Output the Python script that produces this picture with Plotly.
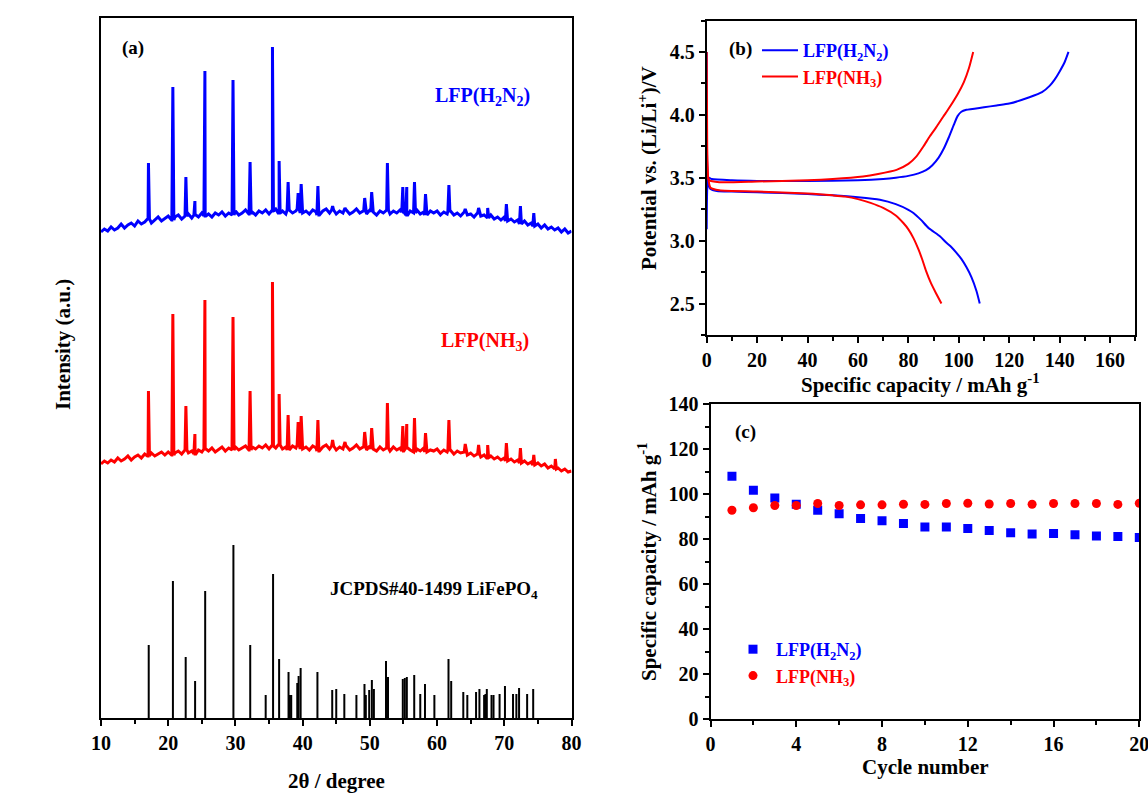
import plotly.graph_objects as go

W, H = 1148, 794
FONT = "Liberation Serif"
BLUE = "#0000FF"
RED = "#FF0000"

# ---------------- (a) XRD data ----------------
# Standard card JCPDS#40-1499 (2theta, relative intensity)
ref_pos = [17.1, 20.7, 22.6, 24.0, 25.5, 29.7, 32.2, 34.5, 35.6, 36.5, 37.9, 38.1, 38.3,
           39.2, 39.4, 39.7, 42.2, 44.4, 45.0, 46.2, 48.0, 49.2, 49.4, 49.9, 50.3, 50.6,
           52.4, 52.7, 54.9, 55.2, 55.5, 56.6, 57.5, 58.2, 59.6, 61.7, 62.1, 63.9, 64.5,
           65.8, 66.3, 67.0, 67.2, 67.4, 68.1, 68.4, 69.3, 70.1, 71.3, 71.8, 72.2, 73.4, 74.3]
ref_int = [73, 137, 61, 37, 127, 173, 73, 23, 144, 59, 46, 23, 23,
           35, 42, 50, 46, 28, 29, 24, 23, 34, 23, 28, 38, 29,
           57, 41, 39, 40, 41, 43, 24, 34, 23, 59, 37, 26, 23,
           26, 29, 23, 24, 29, 23, 23, 24, 32, 24, 24, 30, 24, 29]

# Measured patterns: background sampled every 0.5 degree (10.0 ... 80.0), plus reflections
bg_h2n2 = [486, 489, 487, 491, 488, 490, 494, 490, 493, 495,
           492, 497, 494, 496, 499, 495, 498, 501, 497, 500,
           502, 498, 501, 503, 499, 502, 504, 500, 503, 501,
           505, 502, 504, 501, 505, 503, 506, 502, 505, 503,
           507, 503, 505, 508, 504, 506, 503, 507, 505, 508,
           504, 507, 509, 505, 507, 504, 508, 505, 507, 509,
           505, 507, 504, 508, 506, 503, 507, 509, 505, 508,
           504, 507, 505, 508, 504, 506, 509, 505, 507, 504,
           508, 506, 503, 507, 505, 508, 504, 507, 505, 508,
           506, 503, 507, 505, 508, 504, 506, 503, 507, 505,
           507, 503, 506, 504, 507, 503, 505, 502, 506, 503,
           504, 501, 505, 502, 503, 500, 503, 499, 501, 498,
           501, 497, 499, 496, 498, 494, 497, 493, 495, 492,
           494, 490, 493, 489, 491, 488, 490, 486, 489, 485,
           487]
bg_nh3 = [254, 257, 255, 258, 256, 260, 257, 259, 262, 258,
          261, 263, 260, 264, 262, 265, 262, 264, 266, 263,
          266, 263, 265, 267, 264, 268, 265, 267, 264, 268,
          266, 269, 267, 270, 266, 269, 271, 267, 270, 268,
          271, 268, 270, 272, 268, 271, 269, 272, 270, 273,
          269, 272, 270, 273, 269, 271, 268, 272, 270, 273,
          269, 271, 268, 272, 270, 267, 271, 273, 269, 272,
          268, 271, 269, 272, 268, 270, 273, 269, 271, 268,
          272, 269, 267, 271, 268, 270, 267, 271, 268, 270,
          267, 270, 268, 266, 269, 267, 270, 266, 268, 267,
          269, 265, 268, 266, 268, 264, 267, 265, 266, 263,
          265, 262, 264, 261, 263, 260, 262, 259, 261, 258,
          260, 257, 259, 256, 258, 255, 257, 254, 256, 253,
          255, 252, 254, 250, 252, 249, 250, 247, 249, 246,
          247]
two_theta_bg = [10 + 0.5 * i for i in range(len(bg_h2n2))]

pk_h2n2_pos = [17.06, 20.69, 22.63, 23.97, 25.46, 29.64, 32.18, 35.51, 36.50, 37.84, 39.33,
               39.78, 42.27, 44.46, 46.30, 49.23, 50.27, 52.61, 54.90, 55.49, 56.64, 58.28,
               61.76, 64.19, 66.18, 67.53, 70.31, 72.40, 74.39]
pk_h2n2_int = [555, 631, 541, 517, 647, 638, 556, 671, 557, 536, 525,
               534, 532, 512, 510, 520, 526, 555, 531, 531, 536, 524,
               533, 509, 510, 510, 514, 512, 505]
pk_nh3_pos = [17.06, 20.69, 22.63, 23.97, 25.46, 29.64, 32.18, 35.51, 36.50, 37.84, 39.33,
              39.78, 42.27, 44.46, 46.30, 49.23, 50.27, 52.61, 54.90, 55.49, 56.64, 58.28,
              61.76, 64.19, 66.18, 67.53, 70.31, 72.40, 74.39, 77.60]
pk_nh3_int = [327, 404, 312, 284, 418, 401, 327, 436, 324, 303, 296,
              302, 298, 278, 276, 286, 290, 315, 292, 294, 300, 285,
              298, 274, 273, 273, 275, 270, 263, 259]

# ---------------- (b) charge / discharge ----------------
chg_h2n2_q = [0, 0.3, 0.8, 2, 10, 20, 40, 60, 70, 75, 80, 84, 87, 89.5, 92, 94, 96, 98,
              99.5, 101, 103, 110, 115, 120, 128, 133, 136, 138, 140, 142, 143.5]
chg_h2n2_v = [3.09, 3.45, 3.50, 3.49, 3.48, 3.475, 3.475, 3.48, 3.49, 3.50, 3.515, 3.535,
              3.56, 3.60, 3.66, 3.73, 3.82, 3.92, 3.99, 4.025, 4.04, 4.06, 4.075, 4.09,
              4.14, 4.18, 4.23, 4.28, 4.345, 4.42, 4.5]
dis_h2n2_q = [0, 0.2, 0.6, 1.5, 4, 10, 20, 40, 50, 60, 68.7, 75, 80, 82, 85, 88, 92.5,
              95, 97, 99, 101, 103, 105, 107, 108.3]
dis_h2n2_v = [4.5, 3.6, 3.45, 3.41, 3.395, 3.39, 3.385, 3.37, 3.36, 3.345, 3.325, 3.29,
              3.245, 3.22, 3.165, 3.10, 3.035, 2.985, 2.95, 2.905, 2.855, 2.79, 2.71,
              2.60, 2.5]
chg_nh3_q = [0, 0.4, 1, 5, 20, 40, 50, 62, 68, 75.3, 80, 83.2, 86, 88.5, 91, 93.8, 96,
             99.7, 102, 104, 105.7]
chg_nh3_v = [3.76, 3.52, 3.48, 3.465, 3.47, 3.48, 3.49, 3.51, 3.53, 3.563, 3.61, 3.67,
             3.75, 3.83, 3.90, 3.985, 4.05, 4.17, 4.26, 4.37, 4.5]
dis_nh3_q = [0, 0.2, 0.6, 1.5, 5, 20, 40, 50, 55, 60, 65, 70, 75, 78, 80, 82, 84,
             85.5, 87, 89, 91, 93.1]
dis_nh3_v = [4.5, 3.75, 3.5, 3.42, 3.40, 3.39, 3.375, 3.36, 3.35, 3.33, 3.30, 3.26, 3.20,
             3.14, 3.09, 3.02, 2.93, 2.85, 2.76, 2.66, 2.58, 2.5]

# ---------------- (c) cycling ----------------
cycles = list(range(1, 21))
cap_h2n2 = [108.0, 101.8, 98.3, 95.6, 92.9, 91.3, 89.2, 88.2, 87.0, 85.5,
            85.5, 84.8, 83.9, 82.9, 82.4, 82.6, 82.0, 81.5, 81.2, 80.8]
cap_nh3 = [92.9, 94.0, 95.0, 95.0, 95.9, 95.0, 95.3, 95.3, 95.6, 95.5,
           95.9, 96.0, 95.7, 95.9, 95.6, 95.9, 95.9, 95.9, 95.5, 96.0]


def pattern(bg_x, bg_y, pk_x, pk_y, half=0.15):
    """Join the sampled background with the reflections into one trace."""
    pts = list(zip(bg_x, bg_y))
    for p, h in zip(pk_x, pk_y):
        base = bg_y[min(range(len(bg_x)), key=lambda i: abs(bg_x[i] - p))]
        pts += [(p - half, base), (p, h), (p + half, base)]
    pts.sort()
    return [a for a, _ in pts], [b for _, b in pts]


def px(x):
    return x / W


def py(y):
    return 1 - y / H


fig = go.Figure()

# sticks of the standard card
sx, sy = [], []
for p, h in zip(ref_pos, ref_int):
    sx += [p, p, None]
    sy += [0, h, None]
fig.add_trace(go.Scatter(x=sx, y=sy, mode="lines", line=dict(color="black", width=2),
                         showlegend=False, xaxis="x", yaxis="y"))

bx, by = pattern(two_theta_bg, bg_h2n2, pk_h2n2_pos, pk_h2n2_int)
fig.add_trace(go.Scatter(x=bx, y=by, mode="lines", line=dict(color=BLUE, width=3),
                         showlegend=False, xaxis="x", yaxis="y"))
rx, ry = pattern(two_theta_bg, bg_nh3, pk_nh3_pos, pk_nh3_int)
fig.add_trace(go.Scatter(x=rx, y=ry, mode="lines", line=dict(color=RED, width=3),
                         showlegend=False, xaxis="x", yaxis="y"))

name_h2n2 = f"<span style='color:{BLUE}'>LFP(H<sub>2</sub>N<sub>2</sub>)</span>"
name_nh3 = f"<span style='color:{RED}'>LFP(NH<sub>3</sub>)</span>"

# (b) curves
spl = dict(width=2, shape="spline", smoothing=0.6)
fig.add_trace(go.Scatter(x=chg_h2n2_q, y=chg_h2n2_v, mode="lines", name=name_h2n2,
                         line=dict(spl, color=BLUE),
                         legend="legend", legendgroup="b1", xaxis="x2", yaxis="y2"))
fig.add_trace(go.Scatter(x=dis_h2n2_q, y=dis_h2n2_v, mode="lines", name=name_h2n2,
                         line=dict(spl, color=BLUE),
                         showlegend=False, legendgroup="b1", xaxis="x2", yaxis="y2"))
fig.add_trace(go.Scatter(x=chg_nh3_q, y=chg_nh3_v, mode="lines", name=name_nh3,
                         line=dict(spl, color=RED),
                         legend="legend", legendgroup="b2", xaxis="x2", yaxis="y2"))
fig.add_trace(go.Scatter(x=dis_nh3_q, y=dis_nh3_v, mode="lines", name=name_nh3,
                         line=dict(spl, color=RED),
                         showlegend=False, legendgroup="b2", xaxis="x2", yaxis="y2"))

# (c) markers
fig.add_trace(go.Scatter(x=cycles, y=cap_h2n2, mode="markers", name=name_h2n2,
                         marker=dict(symbol="square", size=9, color=BLUE),
                         legend="legend2", xaxis="x3", yaxis="y3"))
fig.add_trace(go.Scatter(x=cycles, y=cap_nh3, mode="markers", name=name_nh3,
                         marker=dict(symbol="circle", size=9, color=RED),
                         legend="legend2", xaxis="x3", yaxis="y3"))

tickfont = dict(family=FONT, size=20, color="black", weight="bold")
base_axis = dict(showline=True, linewidth=2, linecolor="black", mirror=True,
                 ticks="outside", ticklen=6, tickwidth=2, tickcolor="black",
                 showgrid=False, zeroline=False, tickfont=tickfont, automargin=False)
minor_style = dict(ticks="outside", ticklen=4, tickwidth=2, tickcolor="black")

fig.update_layout(
    width=W, height=H, margin=dict(l=0, r=0, t=0, b=0),
    paper_bgcolor="white", plot_bgcolor="white",
    font=dict(family=FONT, color="black"),
    xaxis=dict(base_axis, domain=[px(101), px(571.5)], range=[10, 80], dtick=10,
               minor=dict(minor_style, dtick=5), anchor="y"),
    yaxis=dict(base_axis, domain=[py(718), py(17.5)], range=[0, 700.5],
               ticks="", showticklabels=False, anchor="x"),
    xaxis2=dict(base_axis, domain=[px(706.7), px(1135.3)], range=[0, 170], dtick=20,
                minor=dict(minor_style, dtick=10), anchor="y2"),
    yaxis2=dict(base_axis, domain=[py(335), py(20.5)], range=[2.25, 4.75], tick0=2.5,
                dtick=0.5, tickformat=".1f", minor=dict(minor_style, dtick=0.25),
                anchor="x2"),
    xaxis3=dict(base_axis, domain=[px(710.5), px(1139.3)], range=[0, 20], dtick=4,
                minor=dict(minor_style, dtick=2), anchor="y3", ticklabeloverflow="allow"),
    yaxis3=dict(base_axis, domain=[py(719.3), py(404.3)], range=[0, 140], dtick=20,
                minor=dict(minor_style, dtick=10), anchor="x3", ticklabeloverflow="allow"),
    legend=dict(x=px(757), y=py(32), xanchor="left", yanchor="top", bgcolor="rgba(0,0,0,0)",
                font=dict(family=FONT, size=18, weight="bold"), itemwidth=36,
                tracegroupgap=0),
    legend2=dict(x=px(730), y=py(631), xanchor="left", yanchor="top", bgcolor="rgba(0,0,0,0)",
                 font=dict(family=FONT, size=18, weight="bold"), itemwidth=36),
)

ann_font = dict(family=FONT, size=19, color="black", weight="bold")
title_font = dict(family=FONT, size=21, color="black", weight="bold")
annotations = [
    dict(text="(a)", x=px(120), y=py(48), xanchor="left", yanchor="middle", font=ann_font),
    dict(text="(b)", x=px(727), y=py(49), xanchor="left", yanchor="middle", font=ann_font),
    dict(text="(c)", x=px(733), y=py(432), xanchor="left", yanchor="middle", font=ann_font),
    dict(text="LFP(H<sub>2</sub>N<sub>2</sub>)", x=px(433), y=py(97), xanchor="left",
         yanchor="middle", font=dict(family=FONT, size=20, color=BLUE, weight="bold")),
    dict(text="LFP(NH<sub>3</sub>)", x=px(439), y=py(342), xanchor="left",
         yanchor="middle", font=dict(family=FONT, size=20, color=RED, weight="bold")),
    dict(text="JCPDS#40-1499 LiFePO<sub>4</sub>", x=px(328), y=py(590), xanchor="left",
         yanchor="middle", font=ann_font),
    dict(text="2θ / degree", x=px(336), y=py(781), xanchor="center", yanchor="middle",
         font=title_font),
    dict(text="Intensity (a.u.)", x=px(63), y=py(345), xanchor="center", yanchor="middle",
         textangle=-90, font=title_font),
    dict(text="Specific capacity / mAh g<sup>-1</sup>", x=px(920), y=py(383),
         xanchor="center", yanchor="middle", font=title_font),
    dict(text="Potential vs. (Li/Li<sup>+</sup>)/V", x=px(648), y=py(168),
         xanchor="center", yanchor="middle", textangle=-90, font=title_font),
    dict(text="Cycle number", x=px(925), y=py(767), xanchor="center", yanchor="middle",
         font=title_font),
    dict(text="Specific capacity / mAh g<sup>-1</sup>", x=px(647), y=py(562),
         xanchor="center", yanchor="middle", textangle=-90, font=title_font),
]
for a in annotations:
    a.update(xref="paper", yref="paper", showarrow=False)
fig.update_layout(annotations=annotations)

fig.write_html("out.html")
